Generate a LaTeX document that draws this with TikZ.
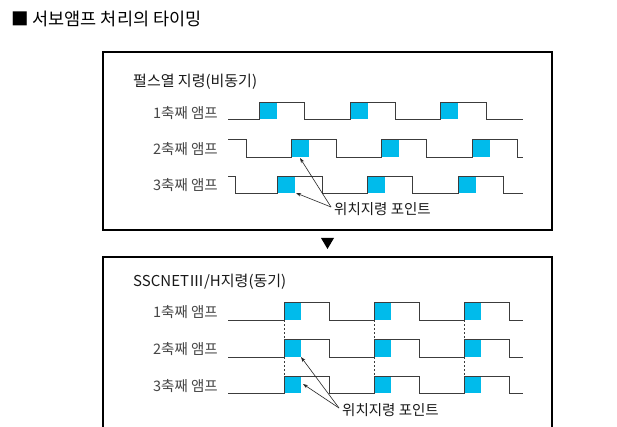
\documentclass[tikz,border=0pt]{standalone}
\usepackage{fontspec}
\setmainfont{Noto Sans CJK KR}
\usetikzlibrary{arrows.meta}
\definecolor{pulseblue}{RGB}{0,187,235}
\definecolor{wavegray}{RGB}{60,60,60}
\definecolor{labelgray}{RGB}{70,70,70}
\begin{document}
\begin{tikzpicture}[x=1pt,y=-1pt,
  frame/.style={draw=black,line width=1.1pt},
  wave/.style={draw=wavegray,line width=0.9pt},
  blk/.style={fill=pulseblue,draw=none},
  rowlabel/.style={anchor=east,inner sep=0pt,font=\fontsize{14.5}{16}\selectfont,text=labelgray},
  boxtitle/.style={anchor=west,inner sep=0pt,font=\fontsize{15}{17}\selectfont,text=black!90},
  ptlabel/.style={anchor=west,inner sep=0pt,font=\fontsize{14.5}{16}\selectfont,text=black!90},
  ptr/.style={draw=black!85,line width=0.6pt,-{Stealth[length=5pt,width=3.5pt]}},
  guideline/.style={draw=wavegray,line width=0.6pt,dash pattern=on 2pt off 2pt}]
\useasboundingbox (0,0) rectangle (617,427);
\fill[white] (0,0) rectangle (617,427);

% title
\node[anchor=west,inner sep=0pt,font=\fontsize{17.5}{20}\selectfont] (title) at (11,19) {■ 서보앰프 처리의 타이밍};

% ---------- box 1 ----------
\draw[frame] (103,52) rectangle (552,230);
\node[boxtitle] (t1) at (133,82) {펄스열 지령(비동기)};
\node[rowlabel] (a1) at (218,113) {1축째 앰프};
\node[rowlabel] (a2) at (218,149) {2축째 앰프};
\node[rowlabel] (a3) at (218,185) {3축째 앰프};

% blue blocks box1
\foreach \x in {259,350,440} \fill[blk] (\x,102) rectangle ++(18,17);
\foreach \x in {291,381,472} \fill[blk] (\x,139) rectangle ++(18,18);
\foreach \x in {277,367,458} \fill[blk] (\x,176) rectangle ++(18,17);

\draw[wave] (228,119) -- (259,119) -- (259,102) -- (304,102) -- (304,119) -- (350,119) -- (350,102) -- (395,102) -- (395,119) -- (440,119) -- (440,102) -- (486,102) -- (486,119) -- (523,119);
\draw[wave] (228,139) -- (246,139) -- (246,157) -- (291,157) -- (291,139) -- (336,139) -- (336,157) -- (381,157) -- (381,139) -- (426,139) -- (426,157) -- (472,157) -- (472,139) -- (517,139) -- (517,157) -- (523,157);
\draw[wave] (228,176) -- (235,176) -- (235,193) -- (277,193) -- (277,176) -- (322,176) -- (322,193) -- (367,193) -- (367,176) -- (412,176) -- (412,193) -- (458,193) -- (458,176) -- (503,176) -- (503,193) -- (523,193);

\node[ptlabel] (p1) at (334,209) {위치지령 포인트};
\coordinate (p1a) at (331,207);
\coordinate (b1) at (300,158);
\coordinate (b2) at (296,193);
\draw[ptr] (p1a) -- (b1);
\draw[ptr] (p1a) -- (b2);

% triangle
\fill[black] (321,238) -- (334,238) -- (327.5,249) -- cycle;

% ---------- box 2 ----------
\draw[frame] (103,428) -- (103,257) -- (552,257) -- (552,428);
\node[boxtitle] (t2) at (133,282) {SSCNETⅢ/H지령(동기)};
\node[rowlabel] (c1) at (218,312) {1축째 앰프};
\node[rowlabel] (c2) at (218,349) {2축째 앰프};
\node[rowlabel] (c3) at (218,386) {3축째 앰프};

\foreach \x in {284,374,464} {
  \fill[blk] (\x,302) rectangle ++(17,18);
  \fill[blk] (\x,339) rectangle ++(17,18);
  \fill[blk] (\x,376) rectangle ++(17,17);
  \draw[guideline] (\x,320) -- (\x,339);
  \draw[guideline] (\x,357) -- (\x,376);
}
\foreach \hi/\lo in {302/320,339/357,376/393} {
  \draw[wave] (228,\lo) -- (284,\lo) -- (284,\hi) -- (329,\hi) -- (329,\lo) -- (374,\lo) -- (374,\hi) -- (419,\hi) -- (419,\lo) -- (464,\lo) -- (464,\hi) -- (509,\hi) -- (509,\lo) -- (523,\lo);
}

\node[ptlabel] (p2) at (342,410) {위치지령 포인트};
\coordinate (p2a) at (339,408);
\coordinate (d1) at (301,357);
\coordinate (d2) at (303,384);
\draw[ptr] (p2a) -- (d1);
\draw[ptr] (p2a) -- (d2);
\end{tikzpicture}
\end{document}
